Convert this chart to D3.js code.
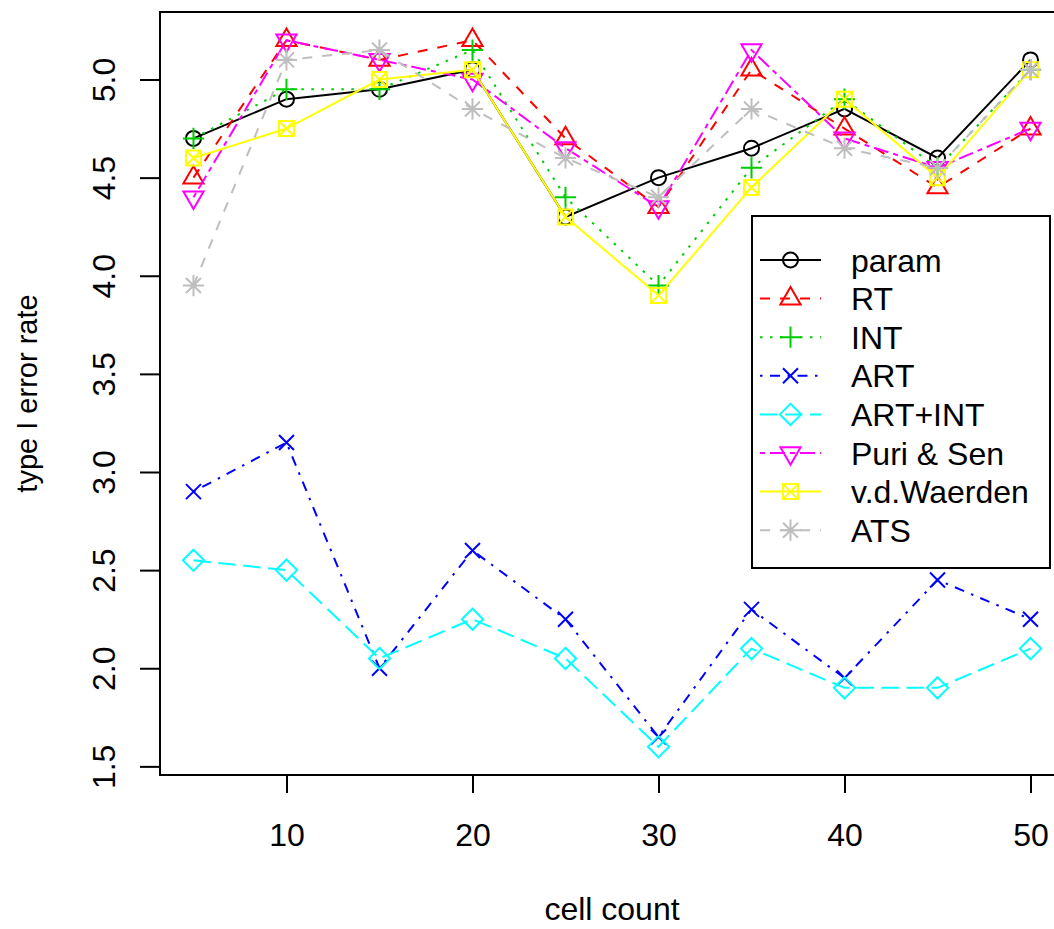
<!DOCTYPE html>
<html>
<head>
<meta charset="utf-8">
<script src="https://cdn.jsdelivr.net/npm/d3@7/dist/d3.min.js"></script>
<style>
  html, body { margin: 0; padding: 0; background: #ffffff; }
  svg { display: block; font-family: Arial, "Liberation Sans", sans-serif; }
</style>
</head>
<body>
<svg id="chart" width="1054" height="929"></svg>
<script>
// ---------- data ----------
const cellCount  = [5, 10, 15, 20, 25, 30, 35, 40, 45, 50];
const param      = [4.70, 4.90, 4.95, 5.05, 4.30, 4.50, 4.65, 4.85, 4.60, 5.10];
const RT         = [4.50, 5.20, 5.10, 5.20, 4.70, 4.35, 5.05, 4.75, 4.45, 4.75];
const INT        = [4.70, 4.95, 4.95, 5.15, 4.40, 3.95, 4.55, 4.90, 4.55, 5.05];
const ART        = [2.90, 3.15, 2.00, 2.60, 2.25, 1.65, 2.30, 1.95, 2.45, 2.25];
const ARTINT     = [2.55, 2.50, 2.05, 2.25, 2.05, 1.60, 2.10, 1.90, 1.90, 2.10];
const PuriSen    = [4.40, 5.20, 5.10, 5.00, 4.65, 4.35, 5.15, 4.70, 4.55, 4.75];
const vdWaerden  = [4.60, 4.75, 5.00, 5.05, 4.30, 3.90, 4.45, 4.90, 4.50, 5.05];
const ATS        = [3.95, 5.10, 5.15, 4.85, 4.60, 4.40, 4.85, 4.65, 4.55, 5.05];

const seriesNames = ["param", "RT", "INT", "ART", "ART+INT", "Puri & Sen", "v.d.Waerden", "ATS"];
const seriesValues = [param, RT, INT, ART, ARTINT, PuriSen, vdWaerden, ATS];
const xTickValues = [10, 20, 30, 40, 50];
const yTickValues = [1.5, 2.0, 2.5, 3.0, 3.5, 4.0, 4.5, 5.0];
const xLabel = "cell count";
const yLabel = "type I error rate";

// ---------- styles (R defaults: col 1..8, lty 1..6, pch 1..8) ----------
const colors = ["#000000", "#FF0000", "#00CD00", "#0000FF", "#00FFFF", "#FF00FF", "#FFFF00", "#BEBEBE"];
const dashes = [null, "10,10", "2.5,7.5", "2.5,7.5,10,7.5", "17.5,7.5", "5,5,15,5", null, "10,10"];
const pchs   = [1, 2, 3, 4, 5, 6, 7, 8];

// ---------- layout ----------
const plotL = 160, plotR = 1064, plotT = 12, plotB = 775;
const fontSize = 32;
const yLabSize = 29;
const svg = d3.select("#chart");

const allVals = seriesValues.flat();
const [ymin, ymax] = d3.extent(allVals);
const [xmin, xmax] = d3.extent(cellCount);
const yPad = (ymax - ymin) * 0.04, xPad = (xmax - xmin) * 0.04;

const x = d3.scaleLinear().domain([xmin - xPad, xmax + xPad]).range([plotL, plotR]);
const y = d3.scaleLinear().domain([ymin - yPad, ymax + yPad]).range([plotB, plotT]);

// symbol paths (R geometry, size unit s)
const S = 20, R0 = 0.375 * S;
function symbolPath(pch) {
  const p = d3.path();
  if (pch === 1) { p.moveTo(R0, 0); p.arc(0, 0, R0, 0, 2 * Math.PI); }
  else if (pch === 2 || pch === 6) {
    const r = Math.sqrt(4 * Math.PI / (3 * Math.sqrt(3))) * R0;
    const yc = 0.5 * r, xc = Math.sqrt(3) / 2 * r;
    const f = pch === 2 ? 1 : -1;
    p.moveTo(0, -f * r); p.lineTo(xc, f * yc); p.lineTo(-xc, f * yc); p.closePath();
  }
  else if (pch === 3) { const c = Math.SQRT2 * R0; p.moveTo(-c, 0); p.lineTo(c, 0); p.moveTo(0, -c); p.lineTo(0, c); }
  else if (pch === 4) { const c = R0; p.moveTo(-c, -c); p.lineTo(c, c); p.moveTo(-c, c); p.lineTo(c, -c); }
  else if (pch === 5) { const c = Math.SQRT2 * R0; p.moveTo(0, -c); p.lineTo(c, 0); p.lineTo(0, c); p.lineTo(-c, 0); p.closePath(); }
  else if (pch === 7) { const c = R0; p.rect(-c, -c, 2 * c, 2 * c); p.moveTo(-c, -c); p.lineTo(c, c); p.moveTo(-c, c); p.lineTo(c, -c); }
  else if (pch === 8) { const c = R0, d = Math.SQRT2 * R0; p.moveTo(-c, -c); p.lineTo(c, c); p.moveTo(-c, c); p.lineTo(c, -c); p.moveTo(-d, 0); p.lineTo(d, 0); p.moveTo(0, -d); p.lineTo(0, d); }
  return p.toString();
}

// ---------- series ----------
const line = d3.line().x((d, i) => x(cellCount[i])).y(d => y(d));
seriesValues.forEach((vals, k) => {
  const g = svg.append("g");
  g.append("path").attr("d", line(vals)).attr("fill", "none")
    .attr("stroke", colors[k]).attr("stroke-width", 2)
    .attr("stroke-dasharray", dashes[k]);
  g.selectAll("path.sym").data(vals).join("path").attr("class", "sym")
    .attr("d", symbolPath(pchs[k]))
    .attr("transform", (d, i) => `translate(${x(cellCount[i])},${y(d)})`)
    .attr("fill", "none").attr("stroke", colors[k]).attr("stroke-width", 2);
});

// ---------- box ----------
svg.append("rect").attr("x", plotL).attr("y", plotT)
  .attr("width", plotR - plotL).attr("height", plotB - plotT)
  .attr("fill", "none").attr("stroke", "#000").attr("stroke-width", 2);

// ---------- axes ----------
const xAxis = svg.append("g").attr("transform", `translate(0,${plotB})`)
  .call(d3.axisBottom(x).tickValues(xTickValues).tickSize(18).tickSizeOuter(0).tickFormat(d3.format("d")));
xAxis.select(".domain").remove();
xAxis.selectAll(".tick line").attr("stroke", "#000").attr("stroke-width", 2);
xAxis.selectAll(".tick text").attr("y", 71).attr("dy", null)
  .attr("font-size", fontSize).attr("font-family", "Arial, 'Liberation Sans', sans-serif").attr("fill", "#000");

const yAxis = svg.append("g").attr("transform", `translate(${plotL},0)`)
  .call(d3.axisLeft(y).tickValues(yTickValues).tickSize(20).tickSizeOuter(0).tickFormat(d3.format(".1f")));
yAxis.select(".domain").remove();
yAxis.selectAll(".tick line").attr("stroke", "#000").attr("stroke-width", 2);
yAxis.selectAll(".tick text").attr("x", null).attr("dy", null)
  .attr("text-anchor", "middle").attr("transform", "translate(-45,0) rotate(-90)")
  .attr("font-size", fontSize).attr("font-family", "Arial, 'Liberation Sans', sans-serif").attr("fill", "#000");

// axis titles
svg.append("text").attr("x", (plotL + plotR) / 2).attr("y", 920)
  .attr("text-anchor", "middle").attr("font-size", fontSize).text(xLabel);
svg.append("text").attr("transform", `translate(37,${(plotT + plotB) / 2}) rotate(-90)`)
  .attr("text-anchor", "middle").attr("font-size", yLabSize).text(yLabel);

// ---------- legend ----------
const legL = 752, legT = 216, legW = 298, legH = 352;
const legend = svg.append("g");
legend.append("rect").attr("x", legL).attr("y", legT).attr("width", legW).attr("height", legH)
  .attr("fill", "#fff").attr("stroke", "#000").attr("stroke-width", 2);
const rowY0 = 260, rowStep = 38.6;
seriesNames.forEach((name, k) => {
  const yy = rowY0 + k * rowStep;
  legend.append("line").attr("x1", 760).attr("x2", 821).attr("y1", yy).attr("y2", yy)
    .attr("stroke", colors[k]).attr("stroke-width", 2).attr("stroke-dasharray", dashes[k]);
  legend.append("path").attr("d", symbolPath(pchs[k])).attr("transform", `translate(790.5,${yy})`)
    .attr("fill", "none").attr("stroke", colors[k]).attr("stroke-width", 2);
  legend.append("text").attr("x", 851).attr("y", yy).attr("dy", "0.36em")
    .attr("font-size", fontSize).attr("fill", "#000").text(name);
});
</script>
</body>
</html>
